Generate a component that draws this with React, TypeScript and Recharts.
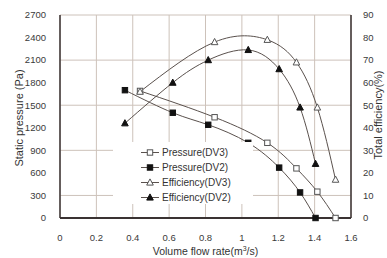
import React from "react";
import {
  ComposedChart,
  Line,
  XAxis,
  YAxis,
  CartesianGrid,
  Legend
} from "recharts";

const flowDV3 = [0.44, 0.85, 1.14, 1.3, 1.415, 1.515];
const flowDV2 = [0.357, 0.62, 0.815, 1.035, 1.205, 1.32, 1.405];
const pressureDV3 = [1690, 1340, 1000, 660, 350, 0];
const pressureDV2 = [1700, 1400, 1240, 1000, 670, 340, 0];
const efficiencyDV3 = [56, 78, 79, 69, 49, 17];
const efficiencyDV2 = [42, 60, 70, 74.5, 66, 49, 24];

const flowTicks = [0, 0.2, 0.4, 0.6, 0.8, 1, 1.2, 1.4, 1.6];
const pressureTicks = [0, 300, 600, 900, 1200, 1500, 1800, 2100, 2400, 2700];
const efficiencyTicks = [0, 10, 20, 30, 40, 50, 60, 70, 80, 90];

const pair = (xs: number[], ys: number[]) => xs.map((x, i) => ({ x, y: ys[i] }));

const LINE = "#5a514d";
const MARK = "#111111";
const FONT = "'Liberation Sans', Arial, sans-serif";

type Kind = "openSquare" | "square" | "openTriangle" | "triangle";

const Marker = ({ cx, cy, kind }: { cx: number; cy: number; kind: Kind }) => {
  if (kind === "openSquare" || kind === "square") {
    const open = kind === "openSquare";
    return (
      <rect
        x={cx - 2.7}
        y={cy - 2.7}
        width={5.4}
        height={5.4}
        fill={open ? "#fff" : MARK}
        stroke={open ? "#555" : MARK}
        strokeWidth={1}
      />
    );
  }
  const open = kind === "openTriangle";
  const pts = `${cx},${cy - 3.6} ${cx - 3.3},${cy + 2.6} ${cx + 3.3},${cy + 2.6}`;
  return <polygon points={pts} fill={open ? "#fff" : MARK} stroke={open ? "#555" : MARK} strokeWidth={1} />;
};

const dotFor = (kind: Kind) => (p: any) => (
  <Marker key={`${kind}-${p.index}`} cx={p.cx} cy={p.cy} kind={kind} />
);

const legendItems: { name: string; kind: Kind }[] = [
  { name: "Pressure(DV3)", kind: "openSquare" },
  { name: "Pressure(DV2)", kind: "square" },
  { name: "Efficiency(DV3)", kind: "openTriangle" },
  { name: "Efficiency(DV2)", kind: "triangle" }
];

const renderLegend = () => (
  <svg width={140} height={62}>
    {legendItems.map((it, i) => {
      const y = 10.5 + i * 15;
      return (
        <g key={it.name}>
          <line x1={28} x2={46} y1={y} y2={y} stroke={LINE} strokeWidth={1} />
          <Marker cx={37} cy={y} kind={it.kind} />
          <text x={49} y={y + 3.5} fontSize={10} fill="#333" fontFamily={FONT}>
            {it.name}
          </text>
        </g>
      );
    })}
  </svg>
);

const tickStyle = { fontSize: 9.5, fill: "#3a3a3a", fontFamily: FONT };

export default function App() {
  return (
    <div style={{ position: "absolute", left: 0, top: 0, background: "#fff" }}>
      <ComposedChart width={387} height={258} margin={{ top: 15, right: 0, bottom: 0, left: 0 }}>
        <CartesianGrid yAxisId="left" stroke="#cdc2ba" strokeWidth={1} verticalPoints={undefined} />
        <XAxis
          type="number"
          dataKey="x"
          domain={[0, 1.6]}
          ticks={flowTicks}
          height={40}
          tickLine={false}
          tickMargin={10}
          tick={tickStyle}
          axisLine={{ stroke: "#3a3232", strokeWidth: 2 }}
          allowDataOverflow
          label={(props: any) => {
            const vb = props.viewBox;
            const cx = vb.x + vb.width / 2;
            return (
              <text x={cx} y={255} textAnchor="middle" fontSize={10.5} fill="#333" fontFamily={FONT}>
                Volume flow rate(m
                <tspan dy={-4} fontSize={7}>3</tspan>
                <tspan dy={4}>/s)</tspan>
              </text>
            );
          }}
        />
        <XAxis
          xAxisId="top"
          orientation="top"
          type="number"
          domain={[0, 1.6]}
          height={0}
          tick={false}
          tickLine={false}
          axisLine={{ stroke: "#3a3232", strokeWidth: 1.5 }}
        />
        <YAxis
          yAxisId="left"
          type="number"
          domain={[0, 2700]}
          ticks={pressureTicks}
          width={60}
          tickLine={false}
          tickMargin={8}
          tick={tickStyle}
          axisLine={{ stroke: "#3a3232", strokeWidth: 1.5 }}
          label={() => (
            <text
              x={19}
              y={118}
              transform="rotate(-90 19 118)"
              textAnchor="middle"
              dominantBaseline="central"
              fontSize={11}
              fill="#333"
              fontFamily={FONT}
            >
              Static pressure (Pa)
            </text>
          )}
        />
        <YAxis
          yAxisId="right"
          orientation="right"
          type="number"
          domain={[0, 90]}
          ticks={efficiencyTicks}
          width={36}
          tickLine={false}
          tickMargin={6}
          tick={tickStyle}
          axisLine={{ stroke: "#3a3232", strokeWidth: 1.5 }}
          label={() => (
            <text
              x={378}
              y={115}
              transform="rotate(-90 378 115)"
              textAnchor="middle"
              dominantBaseline="central"
              fontSize={11}
              fill="#333"
              fontFamily={FONT}
            >
              Total efficiency(%)
            </text>
          )}
        />
        <Legend
          layout="vertical"
          align="center"
          verticalAlign="middle"
          content={renderLegend}
          wrapperStyle={{ left: 113, top: 142, width: 140, height: 62, background: "#fff" }}
        />
        <Line
          yAxisId="left"
          data={pair(flowDV3, pressureDV3)}
          dataKey="y"
          name="Pressure(DV3)"
          type="natural"
          stroke={LINE}
          strokeWidth={1}
          dot={dotFor("openSquare")}
          isAnimationActive={false}
        />
        <Line
          yAxisId="left"
          data={pair(flowDV2, pressureDV2)}
          dataKey="y"
          name="Pressure(DV2)"
          type="natural"
          stroke={LINE}
          strokeWidth={1}
          dot={dotFor("square")}
          isAnimationActive={false}
        />
        <Line
          yAxisId="right"
          data={pair(flowDV3, efficiencyDV3)}
          dataKey="y"
          name="Efficiency(DV3)"
          type="natural"
          stroke={LINE}
          strokeWidth={1}
          dot={dotFor("openTriangle")}
          isAnimationActive={false}
        />
        <Line
          yAxisId="right"
          data={pair(flowDV2, efficiencyDV2)}
          dataKey="y"
          name="Efficiency(DV2)"
          type="natural"
          stroke={LINE}
          strokeWidth={1}
          dot={dotFor("triangle")}
          isAnimationActive={false}
        />
      </ComposedChart>
    </div>
  );
}
